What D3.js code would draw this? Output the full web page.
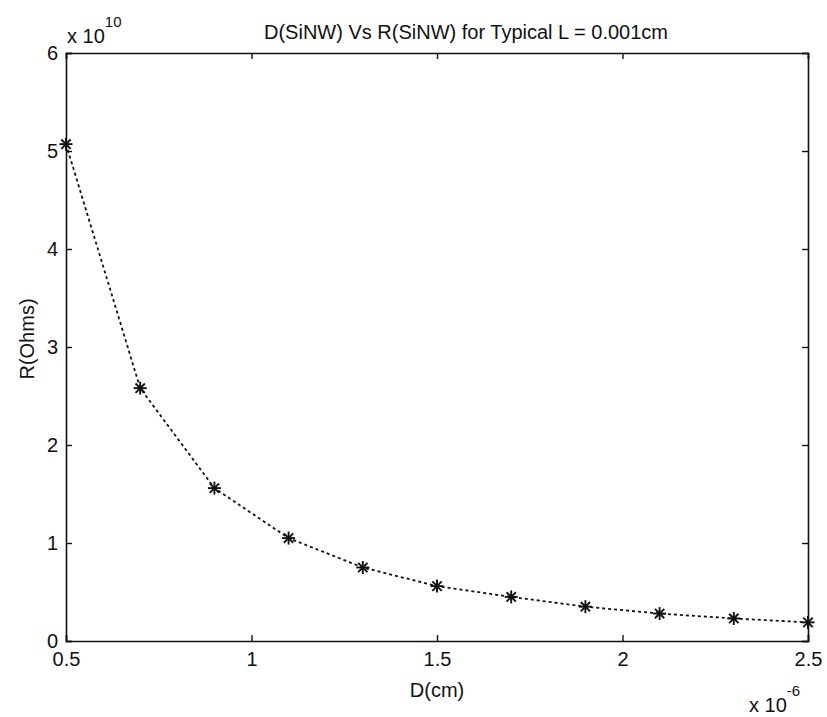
<!DOCTYPE html>
<html>
<head>
<meta charset="utf-8">
<script src="https://cdn.jsdelivr.net/npm/d3@7"></script>
<style>
  body { margin: 0; background: #fff; }
  text { font-family: "Liberation Sans", Arial, sans-serif; fill: #111; }
</style>
</head>
<body>
<div id="vis"></div>
<script>
// D in units of 1e-6 cm, R in units of 1e10 Ohms
var diameters = [0.5, 0.7, 0.9, 1.1, 1.3, 1.5, 1.7, 1.9, 2.1, 2.3, 2.5];
var resistances = [5.07, 2.58, 1.56, 1.05, 0.75, 0.56, 0.45, 0.35, 0.28, 0.23, 0.19];
var xTicks = [0.5, 1, 1.5, 2, 2.5];
var yTicks = [0, 1, 2, 3, 4, 5, 6];

var width = 827, height = 717;
var margin = {top: 53, right: 19, bottom: 76, left: 66};

var svg = d3.select('#vis').append('svg')
	.attr('width', width)
	.attr('height', height);

var x = d3.scaleLinear().domain([0.5, 2.5]).range([margin.left, width - margin.right]);
var y = d3.scaleLinear().domain([0, 6]).range([height - margin.bottom, margin.top]);

var fmt = d => String(d);
var tick = 6;
var fs = '20px';

// axes, ticks pointing inward on all four sides
svg.append('g')
	.attr('transform', 'translate(0,' + y(0) + ')')
	.call(d3.axisBottom(x).tickValues(xTicks).tickSize(-tick).tickPadding(11).tickFormat(fmt));
svg.append('g')
	.attr('transform', 'translate(0,' + y(6) + ')')
	.call(d3.axisTop(x).tickValues(xTicks).tickSize(-tick).tickFormat(''));
svg.append('g')
	.attr('transform', 'translate(' + x(0.5) + ',0)')
	.call(d3.axisLeft(y).tickValues(yTicks).tickSize(-tick).tickPadding(8).tickFormat(fmt));
svg.append('g')
	.attr('transform', 'translate(' + x(2.5) + ',0)')
	.call(d3.axisRight(y).tickValues(yTicks).tickSize(-tick).tickFormat(''));

svg.selectAll('.domain').attr('stroke', '#111').attr('stroke-width', 1.6);
svg.selectAll('.tick line').attr('stroke', '#111').attr('stroke-width', 1.4);
svg.selectAll('.tick text').style('font-size', fs).attr('fill', '#111');

// data
var pts = diameters.map((d, i) => ({d: d, r: resistances[i]}));

svg.append('path')
	.datum(pts)
	.attr('fill', 'none')
	.attr('stroke', '#111')
	.attr('stroke-width', 1.8)
	.attr('stroke-dasharray', '3,3')
	.attr('d', d3.line().x(d => x(d.d)).y(d => y(d.r)));

var s = 6.5;
var marks = svg.selectAll('.mark').data(pts).enter().append('g')
	.attr('class', 'mark')
	.attr('transform', d => 'translate(' + x(d.d) + ',' + y(d.r) + ')');
[[-s, 0, s, 0], [0, -s, 0, s], [-s * 0.72, -s * 0.72, s * 0.72, s * 0.72], [-s * 0.72, s * 0.72, s * 0.72, -s * 0.72]].forEach(function (l) {
	marks.append('line')
		.attr('x1', l[0]).attr('y1', l[1]).attr('x2', l[2]).attr('y2', l[3])
		.attr('stroke', '#111').attr('stroke-width', 1.9);
});

// labels
svg.append('text')
	.attr('x', 466).attr('y', 39)
	.attr('text-anchor', 'middle')
	.style('font-size', fs)
	.text('D(SiNW) Vs R(SiNW) for Typical L = 0.001cm');

svg.append('text')
	.attr('x', (x(0.5) + x(2.5)) / 2).attr('y', 697)
	.attr('text-anchor', 'middle')
	.style('font-size', fs)
	.text('D(cm)');

svg.append('text')
	.attr('transform', 'translate(34,' + ((y(0) + y(6)) / 2 - 8) + ') rotate(-90)')
	.attr('text-anchor', 'middle')
	.style('font-size', fs)
	.text('R(Ohms)');

// exponent labels
var ey = svg.append('text').attr('x', 67).attr('y', 43).style('font-size', fs);
ey.append('tspan').text('x 10');
ey.append('tspan').attr('dy', -16).style('font-size', '15px').text('10');

var ex = svg.append('text').attr('x', 749).attr('y', 712).style('font-size', fs);
ex.append('tspan').text('x 10');
ex.append('tspan').attr('dy', -16).style('font-size', '15px').text('-6');
</script>
</body>
</html>
